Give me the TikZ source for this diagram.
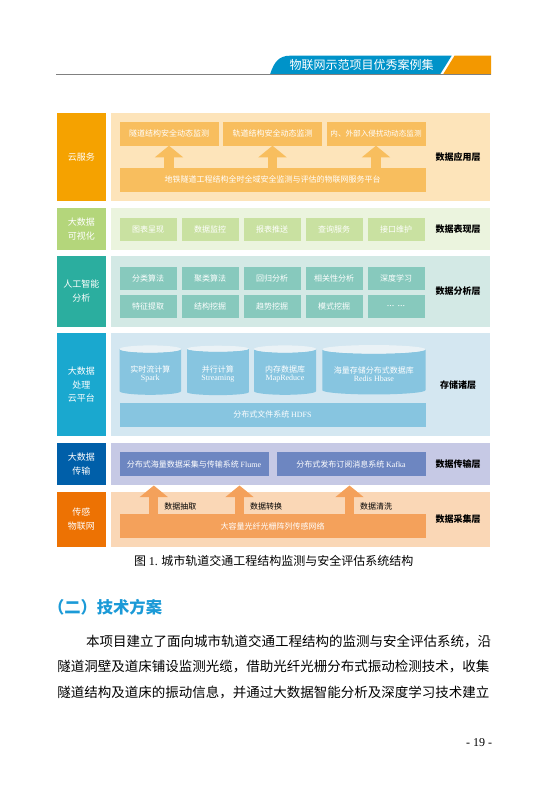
\documentclass[tikz,border=0pt]{standalone}
\usepackage{fontspec}
\usetikzlibrary{arrows.meta, positioning, shapes.geometric}
\setmainfont{Liberation Serif}
\newfontfamily\cjk{Noto Sans CJK SC}
\definecolor{hdrblue}{HTML}{0093C9}
\definecolor{hdrorange}{HTML}{F39800}
\definecolor{rulegray}{HTML}{808080}
\definecolor{headblue}{HTML}{1B9AD7}
\definecolor{apptag}{HTML}{F5A200}
\definecolor{appbg}{HTML}{FDE4BA}
\definecolor{appbox}{HTML}{F8BE5E}
\definecolor{vistag}{HTML}{B4D67B}
\definecolor{visbg}{HTML}{EBF4DE}
\definecolor{visbox}{HTML}{C9E1A1}
\definecolor{anatag}{HTML}{2BAE9F}
\definecolor{anabg}{HTML}{D3E9E5}
\definecolor{anabox}{HTML}{87C9BD}
\definecolor{stotag}{HTML}{1AA8CF}
\definecolor{stobg}{HTML}{D4E7F1}
\definecolor{stobox}{HTML}{87C5E0}
\definecolor{stotop}{HTML}{EAF2F6}
\definecolor{tratag}{HTML}{005FA9}
\definecolor{trabg}{HTML}{C6C9E5}
\definecolor{trabox}{HTML}{6D86C1}
\definecolor{coltag}{HTML}{ED7203}
\definecolor{colbg}{HTML}{FAD7B6}
\definecolor{colbox}{HTML}{F4A15B}
\def\tagx{81.3}
\def\namex{458}

\begin{document}
\begin{tikzpicture}[x=1pt, y=-1pt, inner sep=0pt, outer sep=0pt]
    \tikzstyle{tagbox}=[rectangle, minimum width=48.7pt, align=center, text=white, font=\cjk\fontsize{9}{13.8}\selectfont]
    \tikzstyle{layerbg}=[rectangle, minimum width=379pt]
    \tikzstyle{layername}=[font=\cjk\bfseries\fontsize{9}{11}\selectfont, text=black]
    \tikzstyle{item}=[rectangle, minimum height=23pt, text=white, align=center, font=\cjk\fontsize{8}{9}\selectfont]
    \tikzstyle{store}=[cylinder, shape border rotate=90, minimum height=49.4pt, draw=none, cylinder uses custom fill, cylinder body fill=stobox, cylinder end fill=stotop, text=white, align=center, font=\cjk\fontsize{8}{8.6}\selectfont]
    \tikzstyle{lift}=[line width=9.7pt, -{Triangle[width=28.3pt, length=11.6pt, line width=0pt]}]
    \tikzstyle{steplabel}=[anchor=west, font=\cjk\fontsize{8}{9}\selectfont]
    \tikzstyle{bodyline}=[anchor=west, font=\cjk\fontsize{13.5}{16}\selectfont]

    \useasboundingbox (0,0) rectangle (548,793);

    % Draw the page header
    \fill[hdrblue] (270,74.5) .. controls (274,62) and (279,55.7) .. (290,55.7) -- (451.7,55.7) -- (440,74.5) -- cycle;
    \fill[hdrorange] (454.5,55.7) -- (491,55.7) -- (491,74.5) -- (443,74.5) -- cycle;
    \draw[rulegray, line width=0.9pt] (56,74.8) -- (491,74.8);
    \node[text=white, font=\cjk\fontsize{12}{14}\selectfont] (series) at (361.5,64.5) {物联网示范项目优秀案例集};

    % Draw the layers: tag on the left, background, layer name
    \foreach \id/\ya/\yb/\tagtext/\lab in {
        app/112.7/201/{云服务}/数据应用层,
        vis/208/250/{大数据\\可视化}/数据表现层,
        ana/256/326.7/{人工智能\\分析}/数据分析层,
        sto/333.3/436/{大数据\\处理\\云平台}/存储诸层,
        tra/443/485/{大数据\\传输}/数据传输层,
        col/491.7/547/{传感\\物联网}/数据采集层}
    {
        \node[tagbox, fill=\id tag, minimum height={(\yb-\ya)*1pt}] (\id tag) at (\tagx,{(\ya+\yb)/2}) {\tagtext};
        \node[layerbg, fill=\id bg, minimum height={(\yb-\ya)*1pt}] (\id bg) at (300.5,{(\ya+\yb)/2}) {};
        \node[layername] (\id name) at (\namex,{(\ya+\yb)/2}) {\lab};
    }

    % Application layer: services fed by the platform
    \foreach \i/\x/\txt in {1/169/隧道结构安全动态监测, 2/272.5/轨道结构安全动态监测, 3/376/{\fontsize{7.6}{9}\selectfont 内、外部入侵扰动动态监测}}
        \node[item, fill=appbox, minimum width=99pt, minimum height=24pt] (app-\i) at (\x,133.7) {\txt};
    \node[item, fill=appbox, minimum width=306pt, minimum height=24pt] (plat) at (272.5,179.7) {地铁隧道工程结构全时全域安全监测与评估的物联网服务平台};
    \foreach \i in {1,2,3}
        \draw[lift, draw=appbox] (plat.north -| app-\i) -- (app-\i.south);

    % Presentation layer
    \foreach \i/\txt in {1/图表呈现, 2/数据监控, 3/报表推送, 4/查询服务, 5/接口维护}
        \node[item, fill=visbox, minimum width=57pt] (vis-\i) at ({86+62*\i},229.5) {\txt};

    % Analysis layer, two rows
    \foreach \i/\txt in {1/分类算法, 2/聚类算法, 3/回归分析, 4/相关性分析, 5/深度学习}
        \node[item, fill=anabox, minimum width=57pt, minimum height=22.4pt] (ana-\i) at ({86+62*\i},278.5) {\txt};
    \foreach \i/\txt in {1/特征提取, 2/结构挖掘, 3/趋势挖掘, 4/模式挖掘, 5/{{\rmfamily\fontsize{10}{10}\selectfont ... ...}}}
        \node[item, fill=anabox, minimum width=57pt, minimum height=22.4pt] (ana-\i-b) at ({86+62*\i},306.5) {\txt};

    % Storage layer: databases over the file system
    \foreach \i/\x/\w/\a/\txt in {1/150.3/61.4/0.18/{\rule{0pt}{11pt}实时流计算\\{\rmfamily Spark}},
        2/217.9/61.7/0.18/{\rule{0pt}{11pt}并行计算\\{\rmfamily Streaming}},
        3/285/62/0.18/{\rule{0pt}{11pt}内存数据库\\{\rmfamily MapReduce}},
        4/373.9/103.2/0.107/{\rule{0pt}{11pt}海量存储分布式数据库\\{\rmfamily Redis Hbase}}}
        \node[store, minimum width=\w pt, aspect=\a] (sto-\i) at (\x,372) {\txt};
    \node[item, fill=stobox, minimum width=306pt, minimum height=24pt] (hdfs) at (272.5,414.7) {分布式文件系统 {\rmfamily HDFS}};

    % Transmission layer
    \foreach \i/\x/\txt in {1/194/{分布式海量数据采集与传输系统 {\rmfamily Flume}}, 2/351/{分布式发布订阅消息系统 {\rmfamily Kafka}}}
        \node[item, fill=trabox, minimum width=149pt, minimum height=23.4pt] (tra-\i) at (\x,464) {\txt};

    % Collection layer: sensor network pushing data up
    \node[item, fill=colbox, minimum width=306pt, minimum height=23.4pt] (net) at (272.5,526) {大容量光纤光栅阵列传感网络};
    \foreach \i/\x/\txt in {1/153.8/数据抽取, 2/239.5/数据转换, 3/349.5/数据清洗}
    {
        \coordinate (up-\i) at (\x,485.5);
        \draw[lift, draw=colbox, line width=9pt] (net.north -| up-\i) -- (up-\i);
        \node[steplabel] (step-\i) at ({\x+10.5},506) {\txt};
    }

    % Caption and text below the figure
    \node[font=\cjk\fontsize{12}{14}\selectfont] (caption) at (273.8,561) {图 {\rmfamily 1.} 城市轨道交通工程结构监测与安全评估系统结构};
    \node[anchor=west, text=headblue, font=\cjk\bfseries\fontsize{16.3}{18}\selectfont] (heading) at (48,607.7) {（二）技术方案};
    \foreach \i/\x/\y/\txt in {1/86.2/641/本项目建立了面向城市轨道交通工程结构的监测与安全评估系统，沿,
        2/57.3/666.7/隧道洞壁及道床铺设监测光缆，借助光纤光栅分布式振动检测技术，收集,
        3/57.3/692.3/隧道结构及道床的振动信息，并通过大数据智能分析及深度学习技术建立}
        \node[bodyline] (line-\i) at (\x,\y) {\txt};
    \node[font=\rmfamily\fontsize{12}{14}\selectfont] (pageno) at (479,743) {- 19 -};
\end{tikzpicture}
\end{document}
